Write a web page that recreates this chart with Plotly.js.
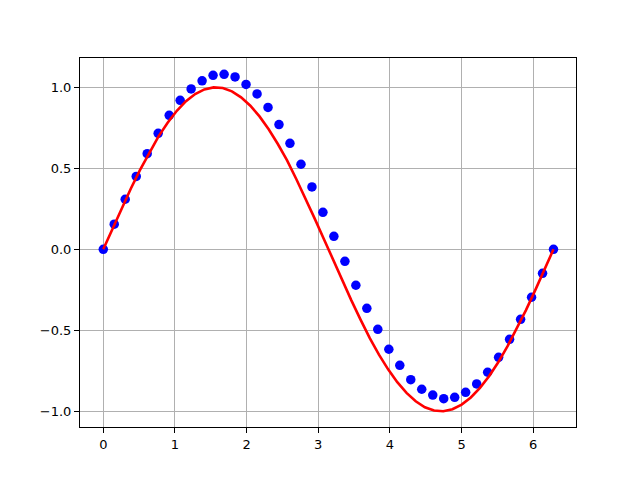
<!DOCTYPE html>
<html>
<head>
<meta charset="utf-8">
<script src="https://cdn.plot.ly/plotly-3.0.1.min.js"></script>
<style>html,body{margin:0;padding:0;background:#fff}</style>
</head>
<body>
<div id="chart" style="width:640px;height:480px"></div>
<script>
// Blue dots: 42 samples from 0 to 2π
const dotX = [0, 0.153, 0.306, 0.460, 0.613, 0.766, 0.920, 1.073, 1.226, 1.379, 1.532, 1.686, 1.839, 1.992,
  2.146, 2.299, 2.452, 2.605, 2.759, 2.912, 3.065, 3.218, 3.372, 3.525, 3.678, 3.831, 3.985, 4.138,
  4.291, 4.444, 4.598, 4.751, 4.904, 5.057, 5.211, 5.364, 5.517, 5.670, 5.824, 5.977, 6.130, 6.283];
const dotY = [0, 0.155, 0.309, 0.45, 0.59, 0.716, 0.827, 0.92, 0.99, 1.04, 1.074, 1.08, 1.064, 1.018,
  0.959, 0.876, 0.77, 0.654, 0.525, 0.385, 0.228, 0.08, -0.074, -0.222, -0.364, -0.494, -0.617, -0.716,
  -0.805, -0.864, -0.9, -0.922, -0.914, -0.883, -0.831, -0.759, -0.667, -0.556, -0.432, -0.296, -0.148, 0];

// Red line: 50 samples from 0 to 2π
const lineX = [0, 0.128, 0.256, 0.385, 0.513, 0.641, 0.769, 0.898, 1.026, 1.154, 1.282, 1.411, 1.539, 1.667,
  1.795, 1.923, 2.052, 2.180, 2.308, 2.436, 2.565, 2.693, 2.821, 2.949, 3.078, 3.206, 3.334, 3.462,
  3.590, 3.719, 3.847, 3.975, 4.103, 4.232, 4.360, 4.488, 4.616, 4.744, 4.873, 5.001, 5.129, 5.257,
  5.386, 5.514, 5.642, 5.770, 5.899, 6.027, 6.155, 6.283];
const lineY = [0, 0.1279, 0.2537, 0.3753, 0.4907, 0.5981, 0.6959, 0.7818, 0.8551, 0.9144, 0.9587, 0.9872,
  0.9995, 0.9954, 0.9749, 0.9383, 0.8866, 0.8204, 0.7409, 0.6500, 0.5488, 0.4339, 0.3151, 0.1912, 0.0641,
  -0.0641, -0.1912, -0.3151, -0.4339, -0.5488, -0.6500, -0.7409, -0.8204, -0.8866, -0.9383, -0.9749,
  -0.9954, -0.9995, -0.9872, -0.9587, -0.9144, -0.8551, -0.7818, -0.6959, -0.5981, -0.4907, -0.3753,
  -0.2537, -0.1279, 0];

const data = [
  {x: dotX, y: dotY, type: 'scatter', mode: 'markers',
   marker: {color: '#0000ff', size: 9.5}, showlegend: false, cliponaxis: false},
  {x: lineX, y: lineY, type: 'scatter', mode: 'lines',
   line: {color: '#ff0000', width: 2.6}, showlegend: false}
];

const axisCommon = {
  showgrid: true, gridcolor: '#b0b0b0', gridwidth: 1,
  zeroline: false, showline: true, linecolor: '#000', linewidth: 1, mirror: true,
  ticks: 'outside', ticklen: 5, tickwidth: 1, tickcolor: '#000',
  tickfont: {family: 'DejaVu Sans', size: 13, color: '#000'}
};

const layout = {
  width: 640, height: 480,
  margin: {l: 80, r: 64, t: 58, b: 53},
  paper_bgcolor: '#fff', plot_bgcolor: '#fff',
  xaxis: Object.assign({}, axisCommon, {range: [-0.325, 6.597], dtick: 1, tick0: 0}),
  yaxis: Object.assign({}, axisCommon, {range: [-1.097, 1.181], dtick: 0.5, tick0: 0, tickformat: '.1f'})
};

Plotly.newPlot('chart', data, layout, {displayModeBar: false, staticPlot: true});
</script>
</body>
</html>
